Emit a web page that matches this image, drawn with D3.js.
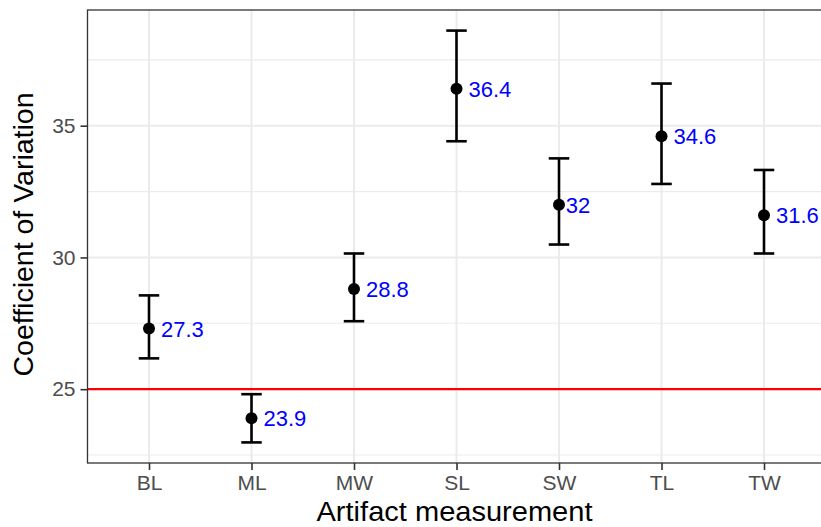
<!DOCTYPE html>
<html>
<head>
<meta charset="utf-8">
<script src="https://cdn.jsdelivr.net/npm/d3@7"></script>
<style>
  html, body { margin: 0; padding: 0; background: #fff; }
  text { font-family: "Liberation Sans", Arial, Helvetica, sans-serif; }
</style>
</head>
<body>
<div id="chart"></div>
<script>
// measurements on the x axis
const categories = ['BL', 'ML', 'MW', 'SL', 'SW', 'TL', 'TW'];
// coefficient of variation (point estimate) and interval bounds
const cv = [27.3, 23.9, 28.8, 36.4, 32.0, 34.6, 31.6];
const lower = [26.17, 22.98, 27.58, 34.41, 30.49, 32.79, 30.15];
const upper = [28.56, 24.81, 30.15, 38.61, 33.76, 36.60, 33.32];
const yTicks = [25, 30, 35];
const yMinorTicks = [22.5, 27.5, 32.5, 37.5];
const refLine = 25;

const width = 821;
const height = 527;
const panel = { left: 87.5, top: 10, right: 825.5, bottom: 463 };

const rows = categories.map((c, i) => ({ cat: c, cv: cv[i], lo: lower[i], hi: upper[i] }));

const svg = d3.select('#chart').append('svg')
  .attr('width', width)
  .attr('height', height);

const x = d3.scalePoint()
  .domain(categories)
  .range([panel.left, panel.right])
  .padding(0.6);

// ggplot style 5% expansion of the data range
const lo = d3.min(lower), hi = d3.max(upper);
const pad = (hi - lo) * 0.05;
const y = d3.scaleLinear()
  .domain([lo - pad, hi + pad])
  .range([panel.bottom, panel.top]);

const grid = svg.append('g');
grid.selectAll('line.minor').data(yMinorTicks).join('line')
  .attr('class', 'minor')
  .attr('x1', panel.left).attr('x2', panel.right)
  .attr('y1', d => y(d)).attr('y2', d => y(d))
  .attr('stroke', '#ebebeb').attr('stroke-width', 1.1);
grid.selectAll('line.majory').data(yTicks).join('line')
  .attr('class', 'majory')
  .attr('x1', panel.left).attr('x2', panel.right)
  .attr('y1', d => y(d)).attr('y2', d => y(d))
  .attr('stroke', '#ebebeb').attr('stroke-width', 2);
grid.selectAll('line.majorx').data(categories).join('line')
  .attr('class', 'majorx')
  .attr('x1', d => x(d)).attr('x2', d => x(d))
  .attr('y1', panel.top).attr('y2', panel.bottom)
  .attr('stroke', '#ebebeb').attr('stroke-width', 2);

// threshold line
svg.append('line')
  .attr('x1', panel.left).attr('x2', panel.right)
  .attr('y1', y(refLine)).attr('y2', y(refLine))
  .attr('stroke', '#ff0000').attr('stroke-width', 2.2);

// error bars
const capHalf = x.step() * 0.1;
const bars = svg.append('g').selectAll('g').data(rows).join('g');
bars.append('line')
  .attr('x1', d => x(d.cat)).attr('x2', d => x(d.cat))
  .attr('y1', d => y(d.lo)).attr('y2', d => y(d.hi))
  .attr('stroke', '#000').attr('stroke-width', 2.6);
bars.append('line')
  .attr('x1', d => x(d.cat) - capHalf).attr('x2', d => x(d.cat) + capHalf)
  .attr('y1', d => y(d.hi)).attr('y2', d => y(d.hi))
  .attr('stroke', '#000').attr('stroke-width', 2.6);
bars.append('line')
  .attr('x1', d => x(d.cat) - capHalf).attr('x2', d => x(d.cat) + capHalf)
  .attr('y1', d => y(d.lo)).attr('y2', d => y(d.lo))
  .attr('stroke', '#000').attr('stroke-width', 2.6);
bars.append('circle')
  .attr('cx', d => x(d.cat)).attr('cy', d => y(d.cv))
  .attr('r', 6).attr('fill', '#000');

// value labels, hjust = -0.3 like geom_text
const fmt = v => String(Math.round(v * 10) / 10);
bars.append('text')
  .text(d => fmt(d.cv))
  .attr('x', d => x(d.cat))
  .attr('y', d => y(d.cv))
  .attr('dy', '0.36em')
  .attr('fill', '#0000ff')
  .style('font-size', '22px')
  .each(function () {
    const w = this.getComputedTextLength();
    d3.select(this).attr('x', +d3.select(this).attr('x') + 0.28 * w);
  });

// panel border
svg.append('rect')
  .attr('x', panel.left).attr('y', panel.top)
  .attr('width', panel.right - panel.left).attr('height', panel.bottom - panel.top)
  .attr('fill', 'none').attr('stroke', '#333').attr('stroke-width', 1.3);

// axes
const xAxis = svg.append('g')
  .attr('transform', `translate(0,${panel.bottom})`)
  .call(d3.axisBottom(x).tickSizeOuter(0).tickSize(7).tickPadding(5.5));
const yAxis = svg.append('g')
  .attr('transform', `translate(${panel.left},0)`)
  .call(d3.axisLeft(y).tickValues(yTicks).tickSizeOuter(0).tickSize(7).tickPadding(5));
[xAxis, yAxis].forEach(a => {
  a.select('.domain').remove();
  a.selectAll('.tick line').attr('stroke', '#333').attr('stroke-width', 1.6);
  a.selectAll('.tick text')
    .attr('fill', '#4d4d4d')
    .style('font-size', '21px')
    .style('font-family', '"Liberation Sans", Arial, sans-serif');
});
xAxis.selectAll('.tick text').attr('dy', '0.71em');

// axis titles
svg.append('text')
  .attr('x', (panel.left + panel.right) / 2 - 2)
  .attr('y', 521)
  .attr('text-anchor', 'middle')
  .attr('textLength', 276)
  .attr('lengthAdjust', 'spacingAndGlyphs')
  .style('font-size', '27.5px')
  .text('Artifact measurement');
svg.append('text')
  .attr('transform', `translate(33,${(panel.top + panel.bottom) / 2 - 2}) rotate(-90)`)
  .attr('text-anchor', 'middle')
  .attr('textLength', 284)
  .attr('lengthAdjust', 'spacingAndGlyphs')
  .style('font-size', '28px')
  .text('Coefficient of Variation');
</script>
</body>
</html>
